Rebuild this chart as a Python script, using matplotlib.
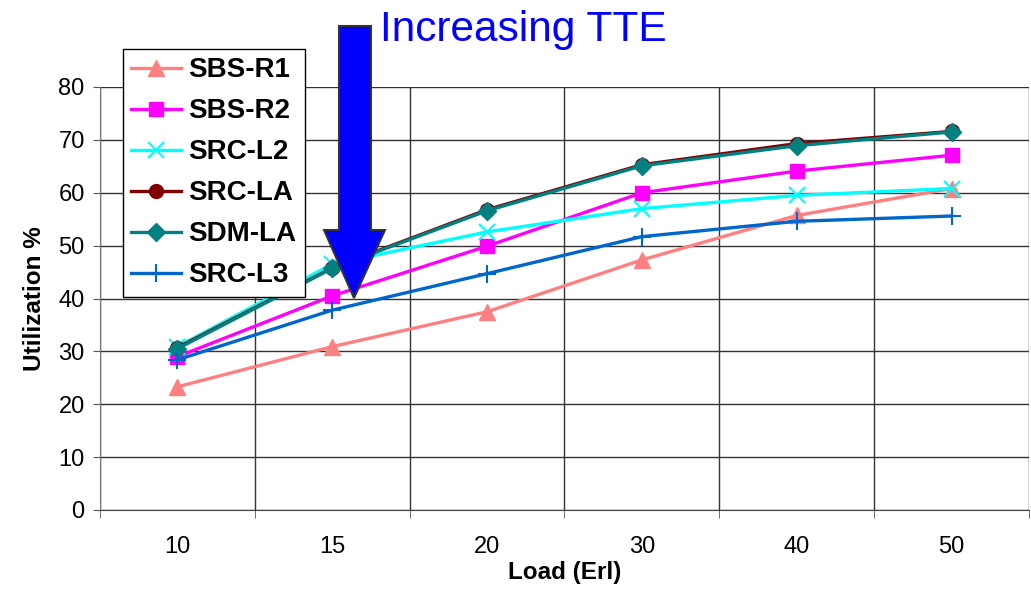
import matplotlib
matplotlib.use("Agg")
import matplotlib.pyplot as plt
from matplotlib.patches import Polygon

plt.rcParams['font.family'] = ['Liberation Sans', 'DejaVu Sans']

loads = ["10", "15", "20", "30", "40", "50"]

sbs_r1 = [23.3, 30.9, 37.5, 47.3, 55.7, 60.8]
sbs_r2 = [29.0, 40.5, 49.9, 60.0, 64.1, 67.1]
src_l2 = [30.9, 46.5, 52.6, 57.0, 59.5, 60.8]
src_la = [30.7, 45.8, 56.8, 65.3, 69.3, 71.6]
sdm_la = [30.5, 45.7, 56.6, 65.1, 68.9, 71.5]
src_l3 = [28.4, 37.8, 44.7, 51.7, 54.6, 55.6]

series = [
    ("SBS-R1", sbs_r1, "#FF8080", "^", 11),
    ("SBS-R2", sbs_r2, "#FF00FF", "s", 10),
    ("SRC-L2", src_l2, "#00FFFF", "x", 11),
    ("SRC-LA", src_la, "#800000", "o", 10),
    ("SDM-LA", sdm_la, "#008080", "D", 9),
    ("SRC-L3", src_l3, "#0066CC", "+", 13),
]

fig = plt.figure(figsize=(10.31, 5.89), dpi=100)
ax = fig.add_axes([100 / 1031, 1 - 510 / 589, 929 / 1031, 423 / 589])

xs = range(len(loads))
for name, vals, col, mk, ms in series:
    ax.plot(xs, vals, color=col, lw=2.4, marker=mk, markersize=ms,
            markeredgewidth=1.5 if mk in "x+" else 1, label=name)

ax.set_xlim(-0.5, len(loads) - 0.5)
ax.set_ylim(0, 80)
ax.set_yticks(range(0, 81, 10))
ax.set_xticks(list(xs))
ax.set_xticklabels(loads)
ax.set_xticks([i - 0.5 for i in range(len(loads) + 1)], minor=True)

ax.grid(axis='y', color='#333333', lw=1)
ax.grid(axis='x', which='minor', color='#333333', lw=1)
ax.set_axisbelow(True)

ax.tick_params(axis='x', which='major', length=0, pad=19, labelsize=17)
ax.tick_params(axis='x', which='minor', length=6, direction='out', color='#555555')
ax.tick_params(axis='y', length=5, direction='out', pad=6, labelsize=17, color='#555555')

for s in ['top', 'right']:
    ax.spines[s].set_visible(False)
ax.spines['left'].set_color('#777777')
ax.spines['bottom'].set_color('#444444')

ax.set_xlabel("Load (Erl)", fontsize=17.5, fontweight='bold', labelpad=2)
ax.set_ylabel("Utilization %", fontsize=17.5, fontweight='bold', labelpad=9)

leg = fig.legend(loc='upper left', bbox_to_anchor=(123 / 1031, 1 - 49 / 589),
                 borderaxespad=0, fancybox=False, framealpha=1, edgecolor='black',
                 prop={'size': 20, 'weight': 'bold'}, handlelength=1.8,
                 labelspacing=0.54, borderpad=0.3, handletextpad=0.25)
leg.get_frame().set_linewidth(1.0)

# big arrow (pixel outline)
arrow_px = [(339, 26), (371, 26), (371, 230), (385, 230), (354, 298),
            (324, 230), (339, 230)]
arrow = Polygon([(x / 1031, 1 - y / 589) for x, y in arrow_px], closed=True,
                transform=fig.transFigure, facecolor='#0000FF',
                edgecolor='#333333', lw=1.5, zorder=10)
fig.patches.append(arrow)

fig.text(380 / 1031, 1 - 30 / 589, "Increasing TTE", color='#0000FF',
         fontsize=30.5, va='center', ha='left')

fig.savefig("out.png", dpi=100)
